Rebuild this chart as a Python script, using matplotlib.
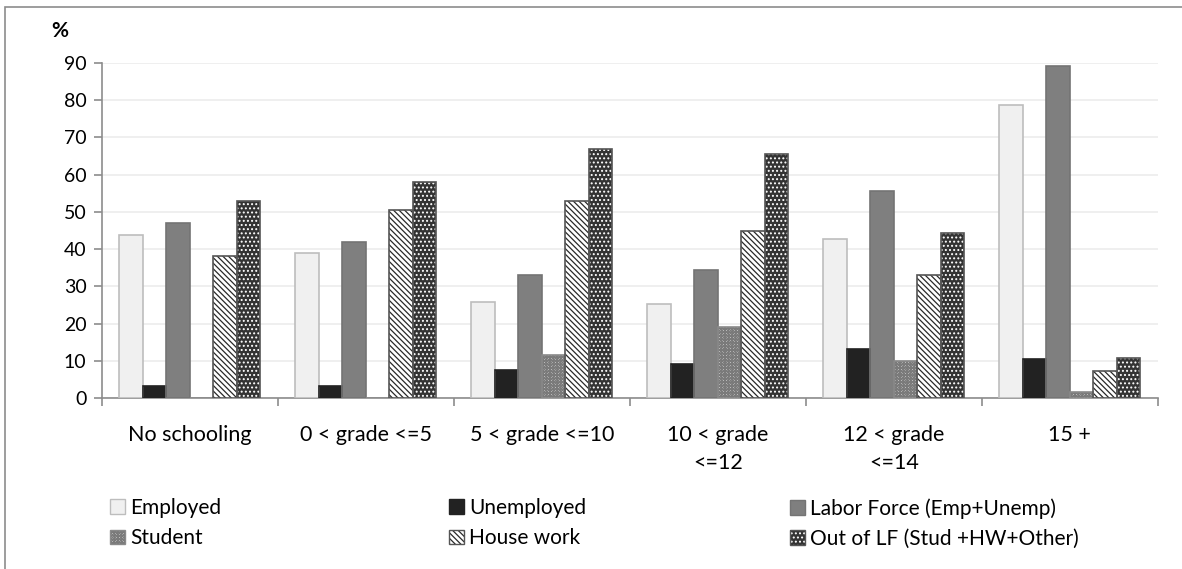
import numpy as np
import matplotlib
matplotlib.use('Agg')
import matplotlib.pyplot as plt
from matplotlib.patches import Rectangle, Patch

categories = ['No schooling', '0 < grade <=5', '5 < grade <=10',
              '10 < grade\n<=12', '12 < grade\n<=14', '15 +']

employed = [43.8, 38.9, 25.7, 25.2, 42.6, 78.6]
unemployed = [3.4, 3.2, 7.5, 9.3, 13.1, 10.5]
labor_force = [47.1, 42.0, 33.1, 34.3, 55.6, 89.1]
student = [0.0, 0.0, 11.7, 19.1, 9.9, 1.8]
house_work = [38.2, 50.5, 52.9, 45.0, 33.1, 7.4]
out_of_lf = [52.9, 57.9, 66.8, 65.6, 44.4, 10.9]

series_names = ['Employed', 'Unemployed', 'Labor Force (Emp+Unemp)',
                'Student', 'House work', 'Out of LF (Stud +HW+Other)']

plt.rcParams['font.family'] = ['Lato', 'DejaVu Sans']
plt.rcParams['hatch.linewidth'] = 0.9

# face, hatch colour, hatch, outline
styles = [
    ('#f0f0f0', '#bdbdbd', None, '#bdbdbd'),
    ('#222222', '#222222', None, '#222222'),
    ('#7f7f7f', '#747474', None, '#747474'),
    ('white', '#7a7a7a', 'x' * 12, '#8a8a8a'),
    ('white', '#2a2a2a', '\\' * 6, '#555555'),
    ('#333333', 'white', '....', '#555555'),   # white dots on dark
]

W, H = 1182, 569
fig = plt.figure(figsize=(W / 100, H / 100), dpi=100)
ax = fig.add_axes([101.7 / W, 1 - 398.3 / H, (1157.7 - 101.7) / W, (398.3 - 62.7) / H])

x = np.arange(len(categories))
w = 0.1335
data = [employed, unemployed, labor_force, student, house_work, out_of_lf]
handles = []
for i, (vals, (fc, hc, hatch, oc)) in enumerate(zip(data, styles)):
    pos = x + (i - 2.5) * w
    ax.bar(pos, vals, w, facecolor=fc, edgecolor=hc, hatch=hatch,
           linewidth=0, zorder=3)
    ax.bar(pos, vals, w, fill=False, edgecolor=oc, linewidth=1.2, zorder=4)
    handles.append((Patch(facecolor=fc, edgecolor=hc, hatch=hatch, linewidth=0),
                    Patch(fill=False, edgecolor=oc, linewidth=1.0)))

ax.set_xlim(-0.5, len(categories) - 0.5)
ax.set_ylim(0, 90)
ax.set_yticks(np.arange(0, 91, 10))
ax.grid(axis='y', color='#ececec', linewidth=1.2, zorder=0)

# category separators as ticks on the x axis
ax.set_xticks(np.arange(-0.5, len(categories), 1.0))
ax.set_xticklabels([])
ax.set_xticks(x, minor=True)
ax.set_xticklabels(categories, minor=True, fontsize=15.5, linespacing=1.5,
                   va='top')
ax.tick_params(axis='x', which='minor', length=0, pad=19)
ax.tick_params(axis='x', which='major', length=6, color='#8c8c8c', width=1.2)
ax.tick_params(axis='y', length=6, color='#8c8c8c', width=1.2,
               labelsize=14, pad=5)

for s in ['top', 'right']:
    ax.spines[s].set_visible(False)
for s in ['left', 'bottom']:
    ax.spines[s].set_color('#8c8c8c')
    ax.spines[s].set_linewidth(1.2)

fig.text(60 / W, 1 - 31 / H, '%', fontsize=15, fontweight='bold',
         ha='center', va='center')

# legend: three columns of two entries
col_x = [110, 449, 790]
for c in range(3):
    idx = [c, c + 3]
    fig.legend([handles[k] for k in idx], [series_names[k] for k in idx],
               loc='upper left', bbox_to_anchor=(col_x[c] / W, 1 - 498 / H),
               frameon=False, fontsize=15, handlelength=0.7, handleheight=0.7,
               handletextpad=0.25, labelspacing=0.5, borderpad=0,
               borderaxespad=0)

# outer chart frame
fig.patches.append(Rectangle((5 / W, -0.1), 1.2, 1 - 7 / H + 0.1,
                             transform=fig.transFigure, fill=False,
                             edgecolor='#8c8c8c', linewidth=1.2))

fig.savefig('out.png', dpi=100)
